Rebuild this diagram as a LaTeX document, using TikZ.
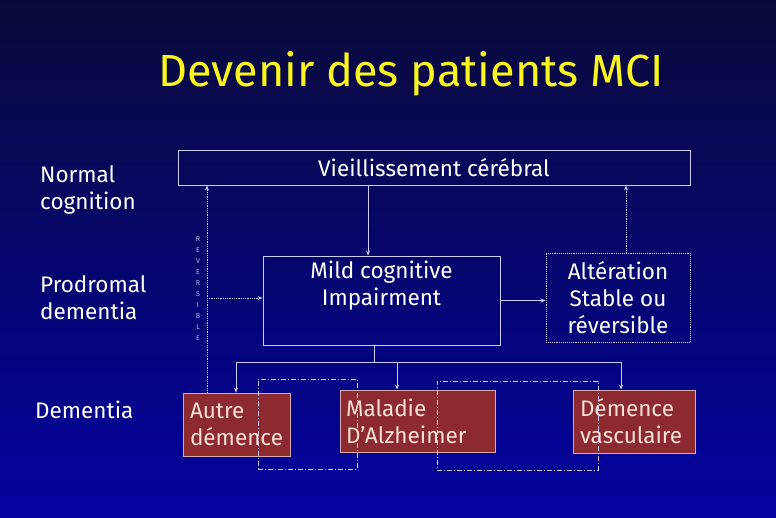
\documentclass[tikz,border=0pt]{standalone}
\usepackage{fontspec}
\setmainfont{Fira Sans}
\usetikzlibrary{arrows.meta}
\definecolor{bgtop}{RGB}{10,10,58}
\definecolor{bgbot}{RGB}{2,2,160}
\definecolor{ln}{RGB}{205,205,240}
\definecolor{redbox}{RGB}{140,42,48}
\definecolor{redln}{RGB}{215,170,175}
\definecolor{redtxt}{RGB}{250,225,210}
\definecolor{ttl}{RGB}{250,245,30}
\tikzset{
  txt/.style={font=\fontsize{22.5}{27}\selectfont},
  box/.style={draw=ln, line width=0.9pt, rectangle, inner sep=0pt, text=white, txt, align=center},
  dotbox/.style={box, densely dotted},
  redb/.style={draw=redln, fill=redbox, line width=0.9pt, rectangle, inner sep=0pt, text=redtxt, txt, align=left},
  ddbox/.style={draw=ln, line width=0.9pt, dash pattern=on 5pt off 2pt on 1pt off 2pt, rectangle, inner sep=0pt},
  arr/.style={draw=ln, line width=0.8pt, -{Stealth[length=5pt,width=4pt]}},
  dotarr/.style={draw=ln, line width=0.8pt, densely dotted, -{Stealth[length=5pt,width=4pt]}},
  ln/.style={draw=ln, line width=0.8pt},
  side/.style={text=white, txt, align=left, anchor=west, inner sep=0pt},
}
\begin{document}
\begin{tikzpicture}[x=1pt,y=-1pt]
\shade[top color=bgtop, bottom color=bgbot] (0,0) rectangle (776,517);
\useasboundingbox (0,0) rectangle (776,517);
\node[text=ttl, font=\fontsize{45}{54}\selectfont] (title) at (411,74) {Devenir des patients MCI};
\node[side] (l1) at (40,190) {Normal\\cognition};
\node[side] (l2) at (40,298) {Prodromal\\dementia};
\node[side] (l3) at (35,410) {Dementia};
\node[box, minimum width=512, minimum height=35] (top) at (434,167.5) {Vieillissement cérébral};
\node[box, minimum width=237, minimum height=89] (mci) at (381.5,300.5) {};
\node[text=white, txt, align=center, inner sep=0pt] (mcitxt) at (381.5,286) {Mild cognitive\\Impairment};
\node[dotbox, minimum width=144, minimum height=89] (alt) at (618,297.5) {Altération\\Stable ou\\réversible};
\node[redb, minimum width=107, minimum height=63, text width=93] (autre) at (236.5,424.5) {Autre\\démence};
\node[redb, minimum width=155, minimum height=62, text width=143] (alz) at (417.5,421) {Maladie\\D’Alzheimer};
\node[redb, minimum width=122, minimum height=63, text width=108] (vasc) at (634,421.5) {Démence\\vasculaire};
\node[ddbox, minimum width=99, minimum height=90] (dd1) at (307.5,424) {};
\node[ddbox, minimum width=161, minimum height=89] (dd2) at (517.5,425.5) {};
% connectors
\coordinate (cx) at (368,0);
\draw[arr] (top.south -| cx) -- (mci.north -| cx);
\draw[dotarr] ([xshift=8pt]alt.north) -- ([xshift=8pt]alt.north |- top.south);
\draw[arr] (mci.east) -- (mci.east -| alt.west);
\coordinate (rv) at (207,0);
\draw[dotarr] (autre.north -| rv) -- (top.south -| rv);
\coordinate (rvm) at (207,298);
\draw[dotarr] (rvm) -- (rvm -| mci.west);
\node[text=ln!80!gray, font=\fontsize{7}{11}\selectfont, align=center, inner sep=0pt] (rev) at (198,289) {R\\E\\V\\E\\R\\S\\I\\B\\L\\E};
\coordinate (br) at (374,362);
\coordinate (bl) at (236,362);
\coordinate (bm) at (397,362);
\coordinate (bv) at (621,362);
\draw[ln] (mci.south -| br) -- (br);
\draw[ln] (bl) -- (bv);
\draw[arr] (bl) -- (autre.north -| bl);
\draw[arr] (bm) -- (alz.north -| bm);
\draw[arr] (bv) -- (vasc.north -| bv);
\end{tikzpicture}
\end{document}
